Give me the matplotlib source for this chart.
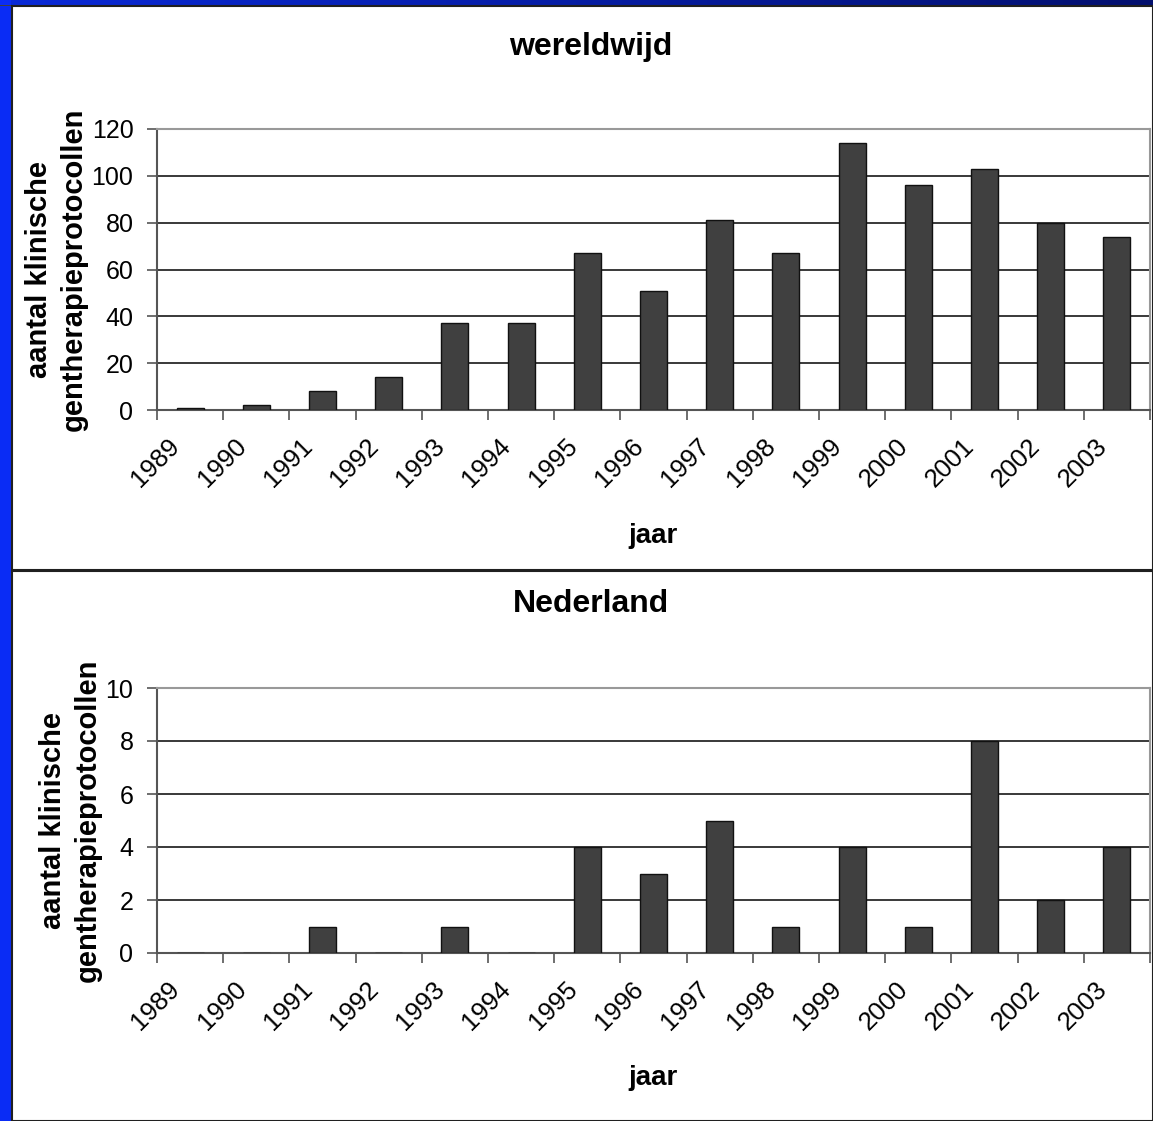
import numpy as np
import matplotlib
matplotlib.use("Agg")
import matplotlib.pyplot as plt
from matplotlib.patches import Rectangle

plt.rcParams['font.family'] = ['Liberation Sans', 'DejaVu Sans']

# data
years = ['1989', '1990', '1991', '1992', '1993', '1994', '1995', '1996',
         '1997', '1998', '1999', '2000', '2001', '2002', '2003']
wereld = [1, 2, 8, 14, 37, 37, 67, 51, 81, 67, 114, 96, 103, 80, 74]
nederland = [0, 0, 1, 0, 1, 0, 4, 3, 5, 1, 4, 1, 8, 2, 4]

W, H = 1153, 1121
fig = plt.figure(figsize=(W / 100, H / 100), dpi=100)
fig.patch.set_facecolor('white')


def fx(px):
    return px / W


def fy(py):
    return 1 - py / H


# blauwe rand links en boven
fig.patches.append(Rectangle((0, 0), fx(11), 1, transform=fig.transFigure,
                             facecolor='#0a2cf5', edgecolor='none', zorder=0))
grad = fig.add_axes([0, fy(5), 1, 5 / H])
grad.imshow(np.linspace(0, 1, 256)[None, :], aspect='auto',
            cmap=matplotlib.colors.LinearSegmentedColormap.from_list(
                'b', ['#0a2ad8', '#03106e']))
grad.set_axis_off()
fig.patches.append(Rectangle((0, fy(6)), 1, 1 / H, transform=fig.transFigure,
                             facecolor='#404040', edgecolor='none', zorder=0))

# panelen
for top, bot in [(6, 570), (571, 1121)]:
    fig.patches.append(Rectangle((fx(12), fy(bot)), 1 - fx(12), (bot - top) / H,
                                 transform=fig.transFigure, facecolor='white',
                                 edgecolor='#202020', linewidth=1.5, zorder=0.5))

x = np.arange(len(years))


def draw(ax, values, ymax, step, title, title_y, jaar_y, ax_bot, ax_h):
    ax.set_zorder(2)
    ax.set_facecolor('white')
    ax.bar(x, values, width=0.41, color='#404040', edgecolor='#111111',
           linewidth=1, zorder=3)
    ax.set_xlim(-0.5, len(years) - 0.5)
    ax.set_ylim(0, ymax)
    ax.set_yticks(np.arange(0, ymax + 1, step))
    ax.yaxis.grid(True, color='#2a2a2a', linewidth=1.3, zorder=0)
    ax.set_axisbelow(True)
    # labels iets links van het midden, zoals in Excel
    ax.set_xticks(x - 0.34)
    ax.set_xticklabels(years, rotation=45, ha='right', va='top',
                       rotation_mode='anchor', fontsize=18.5)
    ax.tick_params(axis='x', which='major', length=0, pad=17)
    ax.set_xticks(np.arange(-0.5, len(years), 1), minor=True)
    ax.tick_params(axis='x', which='minor', length=7, width=1.2,
                   color='#555555', direction='out')
    ax.tick_params(axis='y', length=7, width=1.2, color='#555555',
                   labelsize=18, pad=10)
    for s in ['top', 'right']:
        ax.spines[s].set_color('#999999')
        ax.spines[s].set_linewidth(1.5)
    for s in ['left', 'bottom']:
        ax.spines[s].set_color('#555555')
        ax.spines[s].set_linewidth(1.5)
    ax.set_ylabel('aantal klinische\ngentherapieprotocollen', fontsize=21,
                  fontweight='bold', labelpad=3, linespacing=1.3)
    ax.set_xlabel('jaar', fontsize=20, fontweight='bold', va='center')
    ax.xaxis.set_label_coords(0.5, (ax_bot - jaar_y) / ax_h)
    fig.text(fx(591), fy(title_y), title, fontsize=23, fontweight='bold',
             ha='center', va='center', zorder=3)


ax1 = fig.add_axes([fx(157), fy(410), (1150 - 157) / W, (410 - 129) / H])
draw(ax1, wereld, 120, 20, 'wereldwijd', 47, 536, 410, 410 - 129)

ax2 = fig.add_axes([fx(157), fy(953), (1150 - 157) / W, (953 - 688) / H])
draw(ax2, nederland, 10, 2, 'Nederland', 604, 1078, 953, 953 - 688)

fig.savefig('out.png', dpi=100)
